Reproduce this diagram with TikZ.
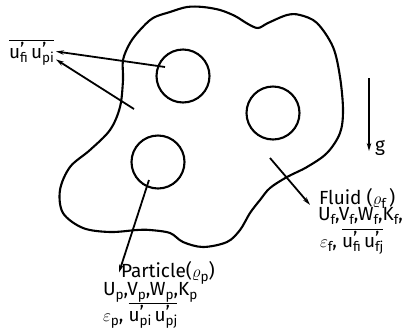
\documentclass[tikz,border=0pt]{standalone}
\usepackage{fontspec}
\setmainfont{Fira Sans}
\usetikzlibrary{arrows.meta, positioning, calc}
\newcommand\sub[1]{\raisebox{-4pt}{\fontsize{13.5}{13.5}\selectfont #1}}
\newcommand\fl[1]{u\rlap{\raisebox{1.5pt}{'}}\sub{#1}}
\newcommand\corr[2]{$\overline{\hbox{\rule{0pt}{16pt}\fl{#1}\,\fl{#2}}}$}

\begin{document}
\begin{tikzpicture}[
  x=1pt, y=-1pt,
  line width=2.1pt,
  grain/.style={circle, draw, minimum size=53pt, inner sep=0pt},
  lbl/.style={font=\fontsize{19}{19}\selectfont, inner sep=1pt, anchor=base west},
  arr/.style={-{Stealth[length=8pt, width=4.5pt]}, line width=1.8pt}
]
  \useasboundingbox (0,0) rectangle (406,333);

  % Domain
  \draw plot[smooth cycle, tension=0.55] coordinates {
    (123,60) (130,43) (140,30) (153,18) (170,12) (187,7) (203,7)
    (220,10) (235,16) (248,24) (258,28) (268,23) (287,15) (300,15)
    (317,23) (333,47) (340,77) (343,110) (340,133) (327,153) (307,167)
    (287,177) (270,188) (260,200) (250,213) (240,230) (227,242)
    (203,247) (183,242) (170,233) (150,230) (137,230) (110,232)
    (83,228) (63,213) (60,190) (70,167) (90,150) (110,130) (120,107)
    (123,80)};

  % Particles
  \node[grain] (p1) at (183,76) {};
  \node[grain] (p2) at (273,113) {};
  \node[grain] (p3) at (158,162) {};

  % Labels
  \node[lbl] (corr) at (7,58) {\corr{fi}{pi}};
  \node[lbl] (fl1) at (317,204) {Fluid ($\varrho$\sub{f}\,)};
  \node[lbl] (fl2) at (316,220) {U\sub{f},V\sub{f},W\sub{f},K\sub{f},};
  \node[lbl] (fl3) at (318,247) {$\varepsilon$\sub{f}, \corr{fi}{fj}};
  \node[lbl] (pt1) at (119,277) {Particle($\varrho$\sub{p})};
  \node[lbl] (pt2) at (101,295) {U\sub{p},V\sub{p},W\sub{p},K\sub{p}};
  \node[lbl] (pt3) at (101,321) {$\varepsilon$\sub{p}, \corr{pi}{pj}};

  % Pointers
  \coordinate (s1) at (165,67);
  \coordinate (s2) at (134,109);
  \coordinate (s3) at (149,180);
  \coordinate (s4) at (270,158);
  \draw[arr] (s1) -- ([yshift=1pt]corr.east);
  \draw[arr] (s2) -- ([yshift=-7pt]corr.east);
  \draw[arr] (s3) -- (pt1.west);
  \draw[arr] (s4) -- ($(fl2.north west)+(-6,0)$);

  % Gravity
  \coordinate (gtop) at (369,78);
  \coordinate (gbot) at (369,151);
  \draw[arr] (gtop) -- (gbot);
  \node[lbl] (g) at ([xshift=4pt]gbot) {g};
\end{tikzpicture}
\end{document}
